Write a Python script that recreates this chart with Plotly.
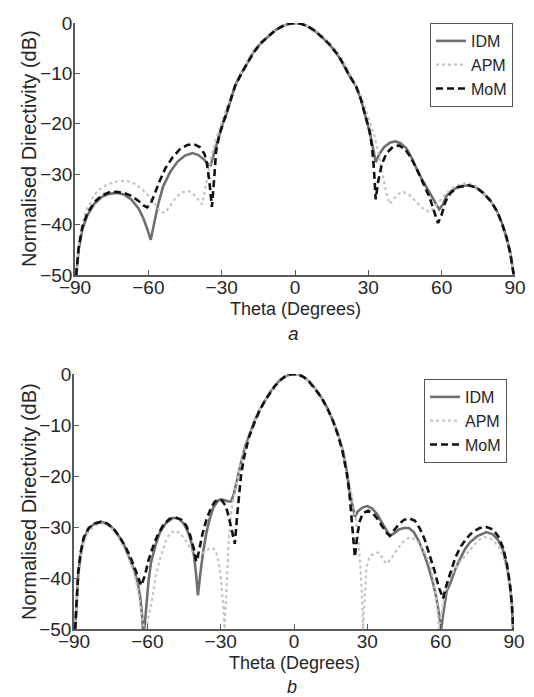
import plotly.graph_objects as go

# --- figure (a) ---
theta_idm_a = [-89.5, -88.5, -87, -85, -82, -79, -76, -73, -70, -67, -64, -62, -60.5, -59,
               -57.5, -56, -54, -51, -48, -45, -42, -39.5, -37, -35.5, -34.5, -33.5, -32.5,
               -31, -29.5, -28.5, -27, -25.5, -24.5, -22, -20, -17, -14, -11, -8, -5, -2.5,
               0, 2.5, 5, 8, 11, 14, 17, 19, 22, 25, 27, 29, 30.5, 32, 33, 34.5, 36.5, 39,
               41, 43, 45.5, 48, 50, 52.5, 55, 57, 59, 60.5, 62, 64.5, 67.5, 71, 74, 77, 80,
               82.5, 84.5, 86.5, 88, 89.5]
db_idm_a = [-50, -45, -41, -38.2, -35.8, -34.5, -33.9, -33.7, -34, -35, -36.8, -38.8, -40.8,
            -43, -39.5, -36, -32.5, -29.5, -27.5, -26.3, -25.8, -26.2, -27.2, -28, -28.2,
            -26.5, -25, -22, -19.8, -18.8, -16.5, -14, -12.4, -10, -8.3, -5.8, -4, -2.6,
            -1.4, -0.6, -0.15, 0, -0.15, -0.6, -1.5, -2.8, -4.2, -6, -7.5, -10.2, -12.6,
            -15.2, -18.8, -21.5, -25, -27.6, -26, -24.6, -23.7, -23.5, -23.8, -24.8, -27,
            -29.2, -31.5, -33.6, -35.5, -37, -36, -34.3, -33.1, -32.4, -32.2, -32.6, -33.7,
            -35.3, -37.2, -39.5, -42.5, -45.5, -50]

theta_apm_a = [-89.5, -88.5, -87, -85, -82, -79, -76, -72.5, -69, -66, -63, -60, -57.5, -55,
               -53, -51, -48.5, -46, -43.5, -41, -39.5, -38, -36.8, -35.5, -34, -32.5, -31,
               -29.5, -28, -26, -24, -22, -20, -17, -14, -11, -8, -5, -2.5, 0, 2.5, 5, 8, 11,
               14, 17, 20, 23, 26, 28.5, 30.5, 32.5, 34, 35.5, 36.5, 37.5, 38.7, 40, 42,
               44.3, 46.5, 49, 52, 55, 57, 59, 61.5, 64.5, 68, 71, 74, 77, 80, 82.5, 84.5,
               86.5, 88, 89.5]
db_apm_a = [-50, -44, -39.8, -36.8, -34, -32.6, -31.9, -31.4, -31.3, -31.8, -32.8, -34.2,
            -35.8, -37.5, -37.6, -36.3, -34.5, -33.6, -33.3, -34.2, -35.2, -36, -33, -29.5,
            -26, -23.3, -21, -19, -17, -14.5, -12, -9.8, -8, -5.6, -3.8, -2.5, -1.3, -0.55,
            -0.13, 0, -0.13, -0.55, -1.3, -2.5, -3.9, -5.6, -7.9, -10.5, -13.4, -16.5,
            -19.5, -22.5, -25.5, -29, -31.5, -34, -35.9, -35.2, -34, -33.5, -34, -35.2,
            -36.7, -37.5, -36.6, -35.4, -34, -32.7, -31.9, -31.8, -32.4, -33.6, -35.4,
            -37.5, -40, -43, -46, -50]

theta_mom_a = [-89.5, -88.5, -87, -85, -82, -79, -76, -73, -70, -67, -64, -62, -60.5, -59,
               -57.5, -55.5, -53, -50, -47, -44, -41.5, -39, -37, -36, -35, -34, -33, -32.3,
               -31, -29.5, -28.5, -27, -25.5, -24.5, -22, -20, -17, -14, -11, -8, -5, -2.5,
               0, 2.5, 5, 8, 11, 14, 17, 19, 22, 25, 27, 29, 30.5, 31.5, 32.3, 33, 34, 35.5,
               37.5, 40, 42.5, 45, 47.5, 50, 52.5, 55, 57, 58.5, 60, 61.5, 63.5, 66.5, 71,
               74, 77, 80, 82.5, 84.5, 86.5, 88, 89.5]
db_mom_a = [-50, -44.5, -40.5, -37.8, -35.5, -34.2, -33.6, -33.5, -33.7, -34.3, -35.3, -36.2,
            -36.6, -35.8, -34, -31.5, -28.8, -26.6, -25, -24.2, -24, -24.6, -26, -28, -31.5,
            -36.5, -30.5, -25.5, -22.3, -20, -18.9, -16.6, -14.1, -12.5, -10.1, -8.4, -5.9,
            -4, -2.6, -1.4, -0.6, -0.15, 0, -0.15, -0.6, -1.5, -2.8, -4.2, -6, -7.5, -10.2,
            -12.6, -15.2, -18.8, -21.5, -24.5, -29, -35, -31.5, -28, -25.8, -24.6, -24.3,
            -25, -26.8, -29.2, -31.8, -34.5, -37.5, -39.7, -38, -35.5, -33.8, -32.6, -32.2,
            -32.6, -33.7, -35.3, -37.2, -39.5, -42.5, -45.5, -50]

# --- figure (b) ---
theta_idm_b = [-89.5, -88.8, -88.3, -87.3, -86, -84, -81.5, -79, -76.5, -74, -71.5, -69.5,
               -67.5, -65.5, -64, -63, -62.2, -61.8, -61.2, -60.5, -59.5, -58.5, -56.5, -54.8,
               -52.5, -49.5, -47, -45, -43.5, -42, -40.8, -40, -39.3, -38.4, -37.2, -35.8,
               -34.5, -33, -31, -30, -28.5, -27, -25.7, -24.5, -23, -21.5, -20, -18, -16,
               -14, -12, -10, -8, -6, -4, -2, 0, 2, 4, 6, 8, 10, 12, 14, 16, 18, 20, 21.6,
               22.6, 23.8, 24.9, 26, 28, 30, 32, 34, 36, 38, 39.2, 41, 43, 45, 47, 49, 51, 53,
               55, 56.8, 58.3, 59.3, 60.2, 61.2, 62.5, 64, 66, 68, 70, 72, 75, 78.8, 81.5,
               83.5, 85.5, 87, 88.3, 89.1, 89.6]
db_idm_b = [-50, -44, -39.5, -35.5, -32.3, -30.3, -29.3, -29, -29.3, -30.3, -31.9, -33.6,
            -35.8, -38.3, -40.8, -43.5, -47, -50, -50, -46, -40.5, -37, -33.3, -31, -29.3,
            -28.2, -28.4, -29.4, -30.8, -33, -36, -39.5, -43.4, -39.5, -35, -31, -28.4,
            -26.2, -24.8, -24.6, -24.7, -25, -25, -23.3, -20, -17, -14.2, -11.5, -9, -7,
            -5.2, -3.7, -2.4, -1.3, -0.6, -0.15, 0, -0.15, -0.6, -1.3, -2.4, -3.7, -5.2, -7,
            -9.2, -11.8, -15, -19, -22.5, -25.5, -28, -27, -26.2, -25.9, -26.4, -27.5,
            -29.2, -31, -31.8, -31.2, -30.5, -30.2, -30.2, -31, -32.7, -35, -37.8, -40.8,
            -44, -47, -50, -46.5, -42.5, -41, -38.3, -36.2, -34.3, -33, -31.8, -31, -31.5,
            -32.6, -34.5, -37.5, -41.4, -45, -50]

theta_apm_b = [-89.5, -88.8, -88.2, -87.2, -86, -84, -81.5, -79, -76.5, -74, -71.5, -69.5,
               -67.5, -65.5, -64, -63, -62, -61.3, -60.5, -59.5, -58.2, -56.5, -54.8, -52.1,
               -50.5, -48.7, -46.5, -44.5, -42.5, -41, -40, -38.5, -36.5, -34.5, -33.2, -32,
               -31, -30, -29.3, -28.7, -28.4, -27.8, -27.2, -26.6, -25.8, -25, -24, -23,
               -21.5, -20, -18, -16, -14, -12, -10, -8, -6, -4, -2, 0, 2, 4, 6, 8, 10, 12,
               14, 16, 18, 20, 21.6, 22.8, 24, 25.3, 26.3, 27.2, 27.8, 28.3, 28.9, 29.6,
               30.6, 31.7, 33, 34.4, 35.8, 37.7, 39.5, 41, 42.5, 44.5, 47.2, 49.5, 51.9,
               53.8, 55.9, 57.3, 58.5, 59.3, 60.2, 61.4, 62.7, 64.5, 66.2, 68, 70.5, 73.5, 76,
               78.2, 80.5, 82.5, 84.2, 86, 87.4, 88.3, 89, 89.6]
db_apm_b = [-50, -44, -40, -36, -33, -30.8, -29.7, -29.3, -29.6, -30.6, -32.3, -34, -36.2,
            -39, -42, -45, -48.5, -50, -50, -47.5, -44.6, -39.5, -36.2, -32.3, -31.2, -30.7,
            -31.2, -32.5, -34.2, -35.5, -36.2, -35.7, -34.8, -34.2, -34.1, -34.8, -36.5,
            -39.5, -43, -47, -50, -45, -38, -32, -27.5, -25, -22.5, -20, -17, -14.2, -11.5,
            -9, -7, -5.2, -3.7, -2.4, -1.3, -0.6, -0.15, 0, -0.15, -0.6, -1.3, -2.4, -3.7,
            -5.2, -7, -9.2, -11.8, -15, -18.8, -22, -25, -28.5, -32.5, -38, -44, -50, -44,
            -38, -36.3, -35.5, -35.1, -35, -35.8, -37.2, -36.4, -35.3, -34.2, -33, -32,
            -32.4, -33.6, -35.3, -37.8, -41, -45, -50, -47, -44, -41.4, -39.2, -37.9, -36.8,
            -35.2, -33.6, -32.4, -32, -32.3, -33.2, -34.2, -36.5, -38.8, -41.4, -45, -50]

theta_mom_b = [-89.5, -88.8, -88.3, -87.3, -86, -84, -81.5, -79, -76.5, -74, -71.5, -69.5,
               -67.5, -65.5, -64, -62.5, -61, -59.5, -58, -56, -53.5, -51, -48.5, -46, -44,
               -42.5, -41, -40, -39, -37.5, -35.8, -34, -32.5, -31, -29.5, -28, -26.8, -25.5,
               -24.2, -23.3, -22.5, -21.7, -20.5, -18.5, -16, -14, -12, -10, -8, -6, -4, -2,
               0, 2, 4, 6, 8, 10, 12, 14, 16, 18, 20, 21.6, 22.6, 23.5, 24.3, 24.9, 25.8,
               26.8, 28.2, 30.3, 32, 34, 36, 38, 39.2, 41, 43, 45, 47.2, 49.5, 51.5, 53.5,
               55.5, 57.5, 59.2, 61, 62.3, 64, 66, 68, 70.5, 73, 76, 78.8, 81.5, 83.5, 85.5,
               87, 88.3, 89.1, 89.7]
db_mom_b = [-50, -43.5, -39, -35, -32, -30.2, -29.3, -29, -29.3, -30.2, -31.8, -33.4, -35.3,
            -37.6, -39.6, -41.5, -39.5, -36.5, -34.3, -31.8, -29.6, -28.4, -28.1, -28.6,
            -29.8, -31.6, -34.2, -36.8, -35, -31.5, -28.5, -26.3, -25.1, -24.6, -24.8,
            -25.8, -27.8, -30.5, -33.3, -28, -23.5, -20, -16.5, -12.5, -9.3, -7.1, -5.3,
            -3.8, -2.5, -1.4, -0.6, -0.15, 0, -0.15, -0.6, -1.4, -2.5, -3.8, -5.3, -7.1,
            -9.3, -12, -15.5, -19.5, -23, -27.5, -32, -35.9, -32, -29, -27.3, -26.8, -27.2,
            -28.3, -29.8, -31.2, -31.7, -30.7, -29.4, -28.6, -28.3, -28.8, -30.3, -32.5,
            -35.5, -38.6, -41.8, -44, -41.5, -38.8, -36, -34, -32.3, -31, -30.2, -30, -30.5,
            -31.8, -34, -37, -41, -45, -50]

x_ticks = [-90, -60, -30, 0, 30, 60, 90]
y_ticks = [-50, -40, -30, -20, -10, 0]

font = "Liberation Sans, Arial, sans-serif"
txt = "#262626"
axcol = "#5a5a5a"

styles = {
    "IDM": dict(color="#6f6f6f", width=2.6, dash="solid"),
    "APM": dict(color="#c4c4c4", width=2.2, dash="dot"),
    "MoM": dict(color="#111111", width=2.6, dash="7px,4px"),
}

fig = go.Figure()

panels = [
    ("x", "y", "legend", [("IDM", theta_idm_a, db_idm_a), ("APM", theta_apm_a, db_apm_a),
                          ("MoM", theta_mom_a, db_mom_a)]),
    ("x2", "y2", "legend2", [("IDM", theta_idm_b, db_idm_b), ("APM", theta_apm_b, db_apm_b),
                             ("MoM", theta_mom_b, db_mom_b)]),
]
for xa, ya, leg, series in panels:
    for name, th, db in series:
        fig.add_trace(go.Scatter(x=th, y=db, name=name, mode="lines", line=styles[name],
                                 xaxis=xa, yaxis=ya, legend=leg))

W, H = 534, 697


def xax(x0, x1, anchor):
    return dict(domain=[x0 / W, x1 / W], range=[-90, 90], tickvals=x_ticks,
                ticks="inside", ticklen=5, tickcolor=axcol, tickwidth=1,
                showline=True, linecolor=axcol, linewidth=1.5, showgrid=False,
                zeroline=False, anchor=anchor, automargin=False, ticklabelstandoff=-6,
                tickfont=dict(family=font, size=19, color=txt))


def yax(y0, y1, anchor):
    return dict(domain=[1 - y1 / H, 1 - y0 / H], range=[-50, 0], tickvals=y_ticks,
                ticks="inside", ticklen=5, tickcolor=axcol, tickwidth=1,
                showline=True, linecolor=axcol, linewidth=1.5, showgrid=False,
                zeroline=False, anchor=anchor, automargin=False, ticklabelstandoff=-3,
                tickfont=dict(family=font, size=19, color=txt))


def legend(x, y):
    return dict(x=x / W, y=1 - y / H, xanchor="right", yanchor="top",
                bordercolor="#555555", borderwidth=1, bgcolor="white",
                font=dict(family=font, size=16, color=txt),
                tracegroupgap=0, itemwidth=30)


def label(text, x, y, size, angle=0):
    return dict(text=text, x=x / W, y=1 - y / H, xref="paper", yref="paper",
                showarrow=False, textangle=angle, xanchor="center", yanchor="middle",
                font=dict(family=font, size=size, color=txt))


fig.update_layout(
    width=W, height=H,
    margin=dict(l=0, r=0, t=0, b=0),
    paper_bgcolor="white", plot_bgcolor="white",
    xaxis=xax(67, 507, "y"), yaxis=yax(15, 267, "x"),
    xaxis2=xax(66, 506, "y2"), yaxis2=yax(366, 621, "x2"),
    legend=legend(505, 15), legend2=legend(499, 371),
    annotations=[
        label("Theta (Degrees)", 287, 301, 18),
        label("<i>a</i>", 285, 325, 19),
        label("Normalised Directivity (dB)", 21, 141, 20, -90),
        label("Theta (Degrees)", 286, 655, 18),
        label("<i>b</i>", 284, 679, 18),
        label("Normalised Directivity (dB)", 21, 494, 20, -90),
    ],
)

fig.write_html("out.html")
